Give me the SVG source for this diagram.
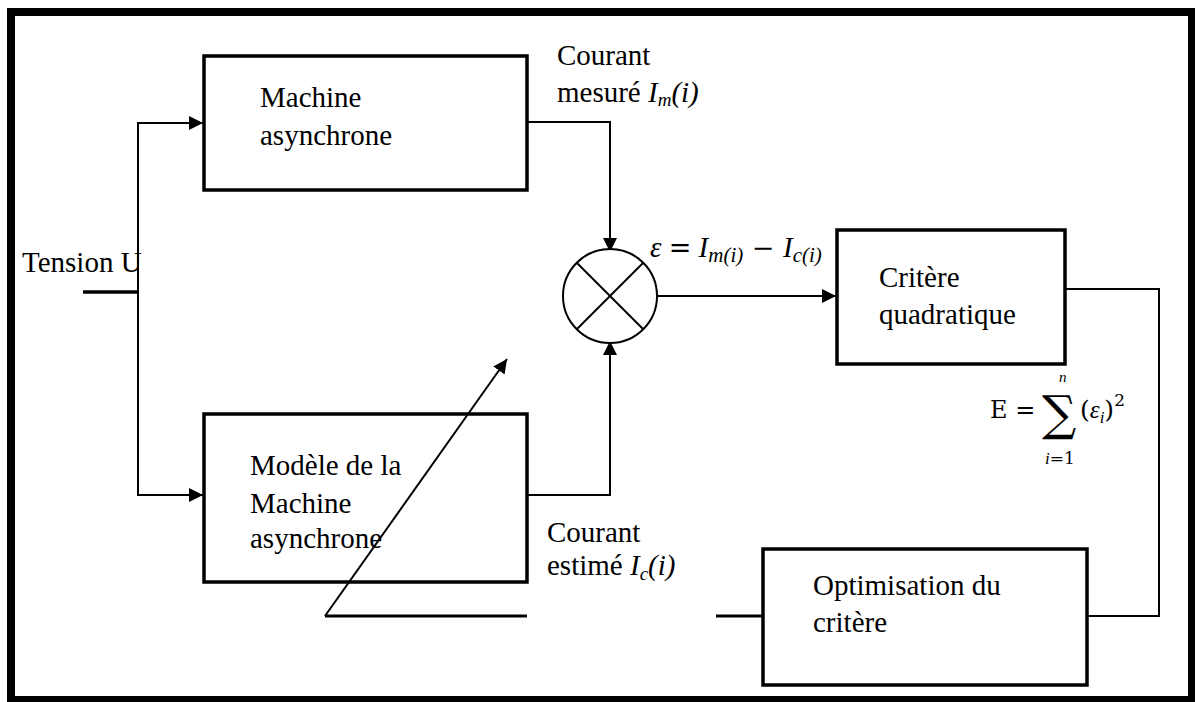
<svg xmlns="http://www.w3.org/2000/svg" width="1195" height="702" viewBox="0 0 1195 702">
<style>
.box{fill:#fff;stroke:#000;stroke-width:3.5}
.ln{fill:none;stroke:#000;stroke-width:2}
.t{font-family:"Liberation Serif","Times New Roman",serif;font-size:29px;fill:#000}
.m{font-family:"Liberation Serif","Times New Roman",serif;font-style:italic;fill:#000}
.mr{font-family:"DejaVu Serif","Liberation Serif",serif;fill:#000}
</style>
<defs>
<marker id="ah2" viewBox="0 0 10 10" refX="10" refY="5" markerWidth="14" markerHeight="14" markerUnits="userSpaceOnUse" orient="auto">
<path d="M0,0 L10,5 L0,10 z" fill="#000"/>
</marker>
</defs>
<rect x="0" y="0" width="1195" height="702" fill="#fff"/>
<rect x="11" y="12" width="1181" height="688" fill="none" stroke="#000" stroke-width="8"/>

<g id="connectors">
<line x1="83" y1="292" x2="138" y2="292" stroke="#000" stroke-width="3.5"/>
<line class="ln" x1="138" y1="123" x2="138" y2="495"/>
<line class="ln" x1="137" y1="123" x2="203" y2="123" marker-end="url(#ah2)"/>
<line class="ln" x1="137" y1="495" x2="203" y2="495" marker-end="url(#ah2)"/>
<polyline class="ln" points="527,122 610,122 610,252" marker-end="url(#ah2)"/>
<polyline class="ln" points="527,495 610,495 610,341" marker-end="url(#ah2)"/>
<line class="ln" x1="657" y1="296" x2="836" y2="296" marker-end="url(#ah2)"/>
<polyline class="ln" points="1065,289 1159,289 1159,616 1087,616" stroke-width="3"/>
<line x1="716" y1="616" x2="762" y2="616" stroke="#000" stroke-width="3"/>
<line x1="325" y1="616" x2="527" y2="616" stroke="#000" stroke-width="3"/>
</g>

<g id="sum">
<circle cx="610" cy="296" r="47" fill="#fff" stroke="#000" stroke-width="2"/>
<line class="ln" x1="577" y1="263" x2="643" y2="329"/>
<line class="ln" x1="643" y1="263" x2="577" y2="329"/>
</g>

<g id="machine">
<rect class="box" x="204" y="56" width="323" height="134"/>
<text class="t" x="260" y="107">Machine</text>
<text class="t" x="260" y="145">asynchrone</text>
</g>

<g id="modele">
<rect class="box" x="204" y="414" width="323" height="168"/>
<text class="t" x="250" y="475">Modèle de la</text>
<text class="t" x="250" y="513">Machine</text>
<text class="t" x="250" y="548">asynchrone</text>
</g>

<g id="critere">
<rect class="box" x="837" y="230" width="228" height="134"/>
<text class="t" x="879" y="287">Critère</text>
<text class="t" x="879" y="324">quadratique</text>
</g>

<g id="optimisation">
<rect class="box" x="763" y="549" width="324" height="136"/>
<text class="t" x="813" y="595">Optimisation du</text>
<text class="t" x="813" y="632">critère</text>
</g>

<g id="adjust">
<line class="ln" x1="325" y1="616" x2="507" y2="359" marker-end="url(#ah2)"/>
</g>

<g id="labels">
<text class="t" x="22" y="272">Tension U</text>
<text class="t" x="557" y="65">Courant</text>
<text class="t" x="557" y="102">mesuré <tspan class="m" font-size="29">I</tspan><tspan class="m" font-size="19" dy="4">m</tspan><tspan class="m" font-size="29" dy="-4">(i)</tspan></text>
<text class="t" x="547" y="542">Courant</text>
<text class="t" x="547" y="575">estimé <tspan class="m" font-size="29">I</tspan><tspan class="m" font-size="19" dy="5">c</tspan><tspan class="m" font-size="29" dy="-5">(i)</tspan></text>
<text class="m" font-size="29" x="650" y="257">ε <tspan class="mr" font-style="normal" font-size="27">=</tspan> I<tspan font-size="21" dy="5">m(i)</tspan><tspan class="mr" font-style="normal" font-size="27" dy="-5"> − </tspan>I<tspan font-size="21" dy="5">c(i)</tspan></text>
<text class="mr" font-size="24" x="990" y="418">E =</text>
<text class="mr" font-size="48" x="1042" y="430">∑</text>
<text class="m" font-size="15" x="1059" y="382">n</text>
<text class="m" font-size="17" x="1045" y="464">i<tspan class="mr" font-style="normal">=1</tspan></text>
<text class="mr" font-size="25" x="1080" y="418">(<tspan class="m">ε</tspan><tspan class="m" font-size="17" dy="5">i</tspan><tspan dy="-5">)</tspan><tspan font-size="17" dy="-12">2</tspan></text>
</g>
</svg>
